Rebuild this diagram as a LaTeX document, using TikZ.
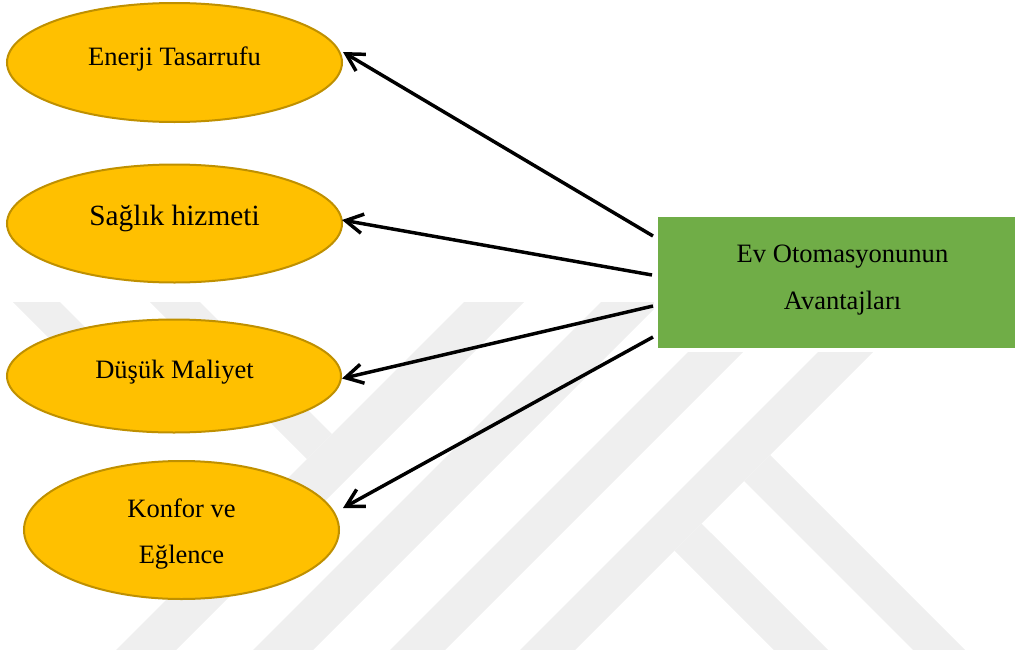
\documentclass[tikz,border=0pt]{standalone}
\usepackage{fontspec}
\setmainfont{Liberation Serif}
\newfontfamily\trfont{Liberation Serif}
\usetikzlibrary{shapes.geometric,arrows.meta,calc}
\definecolor{gold}{HTML}{FFC000}
\definecolor{golddark}{HTML}{BF9000}
\definecolor{grn}{HTML}{70AD47}
\definecolor{wm}{HTML}{EFEFEF}
\begin{document}
\begin{tikzpicture}[x=0.75pt,y=-0.75pt,
  benefit/.style={ellipse, fill=gold, draw=golddark, line width=1.5pt, inner sep=0pt},
  centerbox/.style={rectangle, fill=grn, draw=white, line width=3pt, minimum width=273pt, minimum height=101.25pt, inner sep=0pt},
  txt/.style={anchor=base, inner sep=0pt, font=\trfont\fontsize{19.9pt}{24pt}\selectfont},
  bigtxt/.style={txt, font=\trfont\fontsize{22pt}{26pt}\selectfont},
  arr/.style={line width=2.6pt, -{Straight Barb[length=13pt,width=14.5pt]}},
  wmark/.style={fill=wm, draw=none}]
\useasboundingbox (0,0) rectangle (1015,650);
% faint watermark
\begin{scope}
\clip (0,302) rectangle (1015,650);
\fill[wmark] (476,290) -- (536,290) -- (176,650) -- (116,650) -- cycle;
\fill[wmark] (613,290) -- (673,290) -- (313,650) -- (253,650) -- cycle;
\fill[wmark] (750,290) -- (805,290) -- (445,650) -- (390,650) -- cycle;
\fill[wmark] (880,290) -- (935,290) -- (575,650) -- (520,650) -- cycle;
\fill[wmark] (138,290) -- (188,290) -- (332,434) -- (307,459) -- cycle;
\fill[wmark] (1,290) -- (48,290) -- (178,420) -- (131,420) -- cycle;
\fill[wmark] (744,481) -- (770,455) -- (965,650) -- (913,650) -- cycle;
\fill[wmark] (674.5,550.5) -- (701.5,523.5) -- (828,650) -- (774,650) -- cycle;
\end{scope}
% ellipses
\node[benefit, minimum width=251.25pt, minimum height=89.25pt] (e1) at (174.5,62.5) {};
\node[benefit, minimum width=251.25pt, minimum height=88.5pt] (e2) at (174.5,223.5) {};
\node[benefit, minimum width=250.5pt, minimum height=84.75pt] (e3) at (174,376) {};
\node[benefit, minimum width=236.25pt, minimum height=103.5pt] (e4) at (181.5,530) {};
% central box
\node[centerbox] (box) at (838,282.5) {};
% texts
\node[txt] (t1) at (174.5,65) {Enerji Tasarrufu};
\node[bigtxt] (t2) at (174.5,225) {Sağlık hizmeti};
\node[txt] (t3) at (174.5,378.3) {Düşük Maliyet};
\node[txt] (t4a) at (181.5,517.3) {Konfor ve};
\node[txt] (t4b) at (181.5,563.3) {Eğlence};
\node[txt] (t5a) at (842.5,262.7) {Ev Otomasyonunun};
\node[txt] (t5b) at (842.5,309) {Avantajları};
% arrows
\draw[arr] ([shift={(-1,23)}]box.north west) -- ([shift={(0,-10.5)}]e1.east);
\draw[arr] ([shift={(-2,62)}]box.north west) -- ([shift={(-1,-3.5)}]e2.east);
\draw[arr] ([shift={(-1,93)}]box.north west) -- ([shift={(0,2.5)}]e3.east);
\draw[arr] ([shift={(-1,124)}]box.north west) -- ([shift={(3,-22)}]e4.east);
\end{tikzpicture}
\end{document}
